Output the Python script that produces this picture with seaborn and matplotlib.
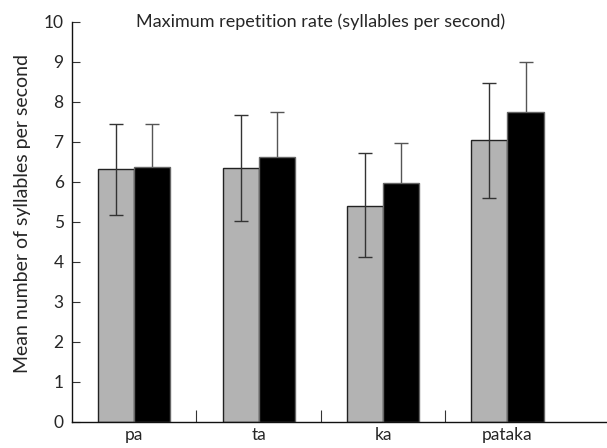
import matplotlib
matplotlib.use("Agg")
import matplotlib.pyplot as plt
import seaborn as sns
import pandas as pd
import numpy as np

categories = ["pa", "ta", "ka", "pataka"]
groups = ["Group A", "Group B"]
values_a = [6.31, 6.35, 5.40, 7.05]
values_b = [6.36, 6.61, 5.98, 7.74]
err_up_a = [1.13, 1.31, 1.33, 1.42]
err_down_a = [1.15, 1.33, 1.28, 1.46]
err_up_b = [1.08, 1.14, 0.98, 1.25]
err_down_b = [1.08, 1.14, 0.98, 1.25]
y_ticks = [0, 1, 2, 3, 4, 5, 6, 7, 8, 9, 10]
title = "Maximum repetition rate (syllables per second)"
ylabel = "Mean number of syllables per second"

sns.set_style("white")
plt.rcParams["font.family"] = ["Lato", "DejaVu Sans"]

df = pd.DataFrame({
    "category": categories * 2,
    "group": [groups[0]] * 4 + [groups[1]] * 4,
    "value": values_a + values_b,
})

fig = plt.figure(figsize=(6.07, 4.48), dpi=100)
ax = fig.add_axes([72 / 607, 1 - 421.5 / 448, 1 - 72 / 607, (421.5 - 22) / 448])

sns.barplot(data=df, x="category", y="value", hue="group", order=categories,
            hue_order=groups, palette=["#b3b3b3", "#000000"], width=0.58,
            errorbar=None, ax=ax, legend=False, saturation=1, zorder=2)

# bar edges
patches = [p for p in ax.patches if p.get_height() > 0]
for p in patches:
    if p.get_facecolor()[0] > 0.5:
        p.set_edgecolor("#222222")
    else:
        p.set_edgecolor("#666666")
    p.set_linewidth(1.0)
    p.set_zorder(2)

# error bars from bar positions
bars_a = sorted([p for p in patches if p.get_facecolor()[0] > 0.5], key=lambda p: p.get_x())
bars_b = sorted([p for p in patches if p.get_facecolor()[0] <= 0.5], key=lambda p: p.get_x())
xa = [p.get_x() + p.get_width() / 2 for p in bars_a]
xb = [p.get_x() + p.get_width() / 2 for p in bars_b]
ax.errorbar(xa, values_a, yerr=[err_down_a, err_up_a], fmt="none", ecolor="#333333",
            elinewidth=1.0, capsize=5, capthick=1.0, zorder=5)
ax.errorbar(xb, values_b, yerr=[err_down_b, err_up_b], fmt="none", ecolor="#555555",
            elinewidth=1.0, capsize=5, capthick=1.0, zorder=1)

ax.set_xlim(-0.5, 3.8)
ax.set_ylim(0, 10)
ax.set_yticks(y_ticks)
ax.set_yticklabels([str(t) for t in y_ticks], fontsize=12.5)
ax.tick_params(axis="y", direction="in", length=6, width=0.8, color="#333333", pad=6, left=True)

ax.set_xticks([0.5, 1.5, 2.5])
ax.set_xticklabels([])
ax.tick_params(axis="x", which="major", direction="in", length=9, width=0.8, color="#333333", bottom=True)
ax.set_xticks(range(len(categories)), minor=True)
ax.set_xticklabels(categories, minor=True, fontsize=12.5)
ax.tick_params(axis="x", which="minor", length=0, pad=4)

ax.set_xlabel("")
ax.set_ylabel(ylabel, fontsize=14, labelpad=7)
ax.yaxis.set_label_coords(-0.077, 0.52)
ax.text(1.5, 10, title, ha="center", va="center", fontsize=13)

sns.despine(ax=ax, top=True, right=True)
for s in ["left", "bottom"]:
    ax.spines[s].set_color("#111111")
    ax.spines[s].set_linewidth(1.0)

fig.savefig("out.png", dpi=100)
